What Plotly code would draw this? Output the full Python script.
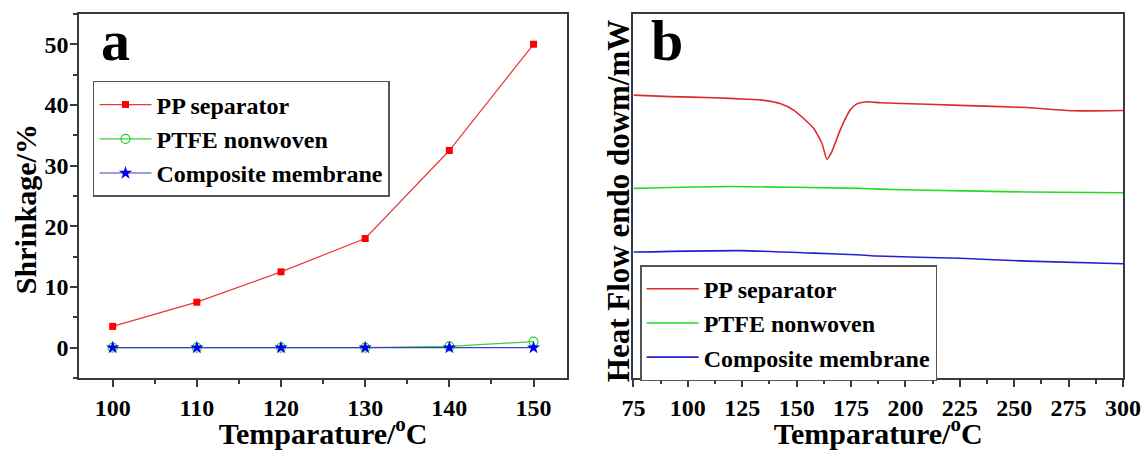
import plotly.graph_objects as go

# ---- Panel a: shrinkage data ----
temp_a = [100, 110, 120, 130, 140, 150]
pp_shrink = [3.5, 7.5, 12.5, 18.0, 32.5, 50.0]
ptfe_shrink = [0.0, 0.0, 0.0, 0.0, 0.2, 1.0]
comp_shrink = [0.0, 0.0, 0.0, 0.0, 0.0, 0.0]

# ---- Panel b: DSC curves (arbitrary units) ----
pp_T = [75, 92, 112, 127, 133.2, 142.4, 148.6, 153.2, 157.8, 161.6, 163.9, 166.2,
        170.0, 174.6, 177.7, 182.3, 188.4, 194.5, 225, 256, 277, 300]
pp_hf = [7.77, 7.73, 7.70, 7.66, 7.64, 7.54, 7.36, 7.13, 6.86, 6.45, 6.01, 6.22,
         6.81, 7.36, 7.53, 7.59, 7.56, 7.55, 7.49, 7.43, 7.34, 7.35]
ptfe_T = [75, 119, 179, 188, 210, 256, 300]
ptfe_hf = [5.21, 5.26, 5.21, 5.19, 5.16, 5.11, 5.09]
comp_T = [75, 124, 158, 180, 187, 225, 256, 300]
comp_hf = [3.46, 3.50, 3.43, 3.38, 3.35, 3.29, 3.21, 3.14]

names = ["PP separator", "PTFE nonwoven", "Composite membrane"]

FONT = "Liberation Serif, Times New Roman, serif"
AX = "#3a3a3a"

fig = go.Figure()

fig.add_trace(go.Scatter(x=temp_a, y=pp_shrink, name=names[0], mode="lines+markers",
                         line=dict(color="#e8383a", width=1.2),
                         marker=dict(symbol="square", size=7, color="#ff0000"),
                         xaxis="x", yaxis="y", legend="legend"))
fig.add_trace(go.Scatter(x=temp_a, y=ptfe_shrink, name=names[1], mode="lines+markers",
                         line=dict(color="#3ccf3c", width=1.2),
                         marker=dict(symbol="circle-open", size=9, color="#22cc22", line=dict(width=1.2)),
                         xaxis="x", yaxis="y", legend="legend"))
fig.add_trace(go.Scatter(x=temp_a, y=comp_shrink, name=names[2], mode="lines+markers",
                         line=dict(color="#3c3cc8", width=1.2),
                         marker=dict(symbol="star", size=10, color="#0000ee"),
                         xaxis="x", yaxis="y", legend="legend"))

fig.add_trace(go.Scatter(x=pp_T, y=pp_hf, name=names[0], mode="lines",
                         line=dict(color="#dd2a2a", width=1.6, shape="spline", smoothing=0.5),
                         xaxis="x2", yaxis="y2", legend="legend2"))
fig.add_trace(go.Scatter(x=ptfe_T, y=ptfe_hf, name=names[1], mode="lines",
                         line=dict(color="#22dd22", width=1.6, shape="spline", smoothing=0.5),
                         xaxis="x2", yaxis="y2", legend="legend2"))
fig.add_trace(go.Scatter(x=comp_T, y=comp_hf, name=names[2], mode="lines",
                         line=dict(color="#2222cc", width=1.6, shape="spline", smoothing=0.5),
                         xaxis="x2", yaxis="y2", legend="legend2"))

axis_common = dict(showline=True, linecolor=AX, linewidth=1.5, mirror=True, automargin=False,
                   showgrid=False, zeroline=False, ticks="outside", ticklen=7,
                   tickwidth=1.5, tickcolor=AX,
                   tickfont=dict(family=FONT, size=24, color="black", weight="bold"))

title_font = dict(family=FONT, size=30, color="black", weight="bold")
xtitle = dict(text="Temparature/<sup>o</sup>C", font=title_font, standoff=24)

legend_common = dict(xanchor="left", yanchor="top", bgcolor="white",
                     bordercolor="#555555", borderwidth=1.5, itemwidth=52,
                     font=dict(family=FONT, size=24, color="black", weight="bold"),
                     tracegroupgap=0)

fig.update_layout(
    width=1143, height=450,
    margin=dict(l=79, r=20, t=14, b=72, autoexpand=False),
    plot_bgcolor="white", paper_bgcolor="white",
    font=dict(family=FONT, color="black", weight="bold"),
    xaxis=dict(domain=[0, 0.4676], range=[96, 154], dtick=10, tick0=100,
               minor=dict(dtick=5, tick0=100, ticks="outside", ticklen=4, tickcolor=AX, tickwidth=1.5),
               title=xtitle, **axis_common),
    yaxis=dict(range=[-5, 55], dtick=10, tick0=0, ticklabelstandoff=-3,
               minor=dict(dtick=5, tick0=0, ticks="outside", ticklen=4, tickcolor=AX, tickwidth=1.5),
               **axis_common),
    xaxis2=dict(domain=[0.5311, 1], range=[75, 300], dtick=25, tick0=75,
                minor=dict(dtick=12.5, tick0=75, ticks="outside", ticklen=4, tickcolor=AX, tickwidth=1.5),
                title=xtitle, anchor="y2", **axis_common),
    yaxis2=dict(range=[0, 10], anchor="x2", showline=True, linecolor=AX, linewidth=1.5, mirror=True,
                automargin=False, showgrid=False, zeroline=False, ticks="", showticklabels=False),
    legend=dict(x=0.0134, y=0.816, **legend_common),
    legend2=dict(x=0.5375, y=0.310, **legend_common),
    showlegend=True,
)

# y-axis titles as rotated annotations for precise placement
fig.add_annotation(text="Shrinkage/%", x=-0.0517, y=0.464, xref="paper", yref="paper",
                   xanchor="center", yanchor="middle", textangle=-90, showarrow=False,
                   font=dict(family=FONT, size=30, color="black", weight="bold"))
fig.add_annotation(text="Heat Flow endo dowm/mW", x=0.5164, y=0.486, xref="paper", yref="paper",
                   xanchor="center", yanchor="middle", textangle=-90, showarrow=False,
                   font=dict(family=FONT, size=31, color="black", weight="bold"))

fig.add_annotation(text="a", x=0.0345, y=0.927, xref="paper", yref="paper",
                   xanchor="center", yanchor="middle",
                   showarrow=False, font=dict(family=FONT, size=58, color="black", weight="bold"))
fig.add_annotation(text="b", x=0.5634, y=0.927, xref="paper", yref="paper",
                   xanchor="center", yanchor="middle",
                   showarrow=False, font=dict(family=FONT, size=58, color="black", weight="bold"))

fig.write_html("out.html")
